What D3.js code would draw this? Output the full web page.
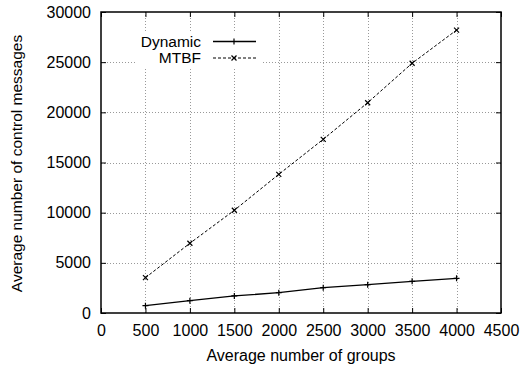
<!DOCTYPE html>
<html>
<head>
<meta charset="utf-8">
<script src="https://cdn.jsdelivr.net/npm/d3@7"></script>
<style>
  body { margin: 0; background: #fff; }
  text { font-family: "Liberation Sans", Arial, sans-serif; }
</style>
</head>
<body>
<svg id="chart" width="523" height="368"></svg>
<script>
// values
var groups = [500, 1000, 1500, 2000, 2500, 3000, 3500, 4000];
var dynamicMsgs = [730, 1230, 1700, 2030, 2520, 2820, 3160, 3460];
var mtbfMsgs = [3520, 6950, 10240, 13820, 17310, 20960, 24890, 28200];
var xTicks = [0, 500, 1000, 1500, 2000, 2500, 3000, 3500, 4000, 4500];
var yTicks = [0, 5000, 10000, 15000, 20000, 25000, 30000];

var svg = d3.select("#chart");
var plotL = 101, plotR = 501, plotT = 12, plotB = 313;

var x = d3.scaleLinear().domain([0, 4500]).range([plotL, plotR]);
var y = d3.scaleLinear().domain([0, 30000]).range([plotB, plotT]);

// grid
var grid = svg.append("g").attr("stroke", "#999").attr("stroke-width", 1)
    .attr("stroke-dasharray", "1,2");
grid.selectAll("line.gx").data(xTicks.slice(1, -1)).enter().append("line")
    .attr("x1", d => Math.round(x(d)) + 0.5).attr("x2", d => Math.round(x(d)) + 0.5)
    .attr("y1", plotT).attr("y2", plotB);
grid.selectAll("line.gy").data(yTicks.slice(1, -1)).enter().append("line")
    .attr("y1", d => Math.round(y(d)) + 0.5).attr("y2", d => Math.round(y(d)) + 0.5)
    .attr("x1", plotL).attr("x2", plotR);

// legend background hides grid
svg.append("rect").attr("x", 135).attr("y", 33).attr("width", 128).attr("height", 34)
    .attr("fill", "#fff");

// axes
var fontSize = "16px";
var fmt = d3.format("d");
svg.append("g").attr("transform", "translate(0," + plotB + ")")
    .call(d3.axisBottom(x).tickValues(xTicks).tickFormat(fmt).tickSize(-5).tickPadding(12));
svg.append("g").attr("transform", "translate(" + plotL + ",0)")
    .call(d3.axisLeft(y).tickValues(yTicks).tickFormat(fmt).tickSize(-5).tickPadding(10));
svg.append("g").attr("transform", "translate(0," + plotT + ")")
    .call(d3.axisTop(x).tickValues(xTicks).tickSize(-5).tickFormat(""));
svg.append("g").attr("transform", "translate(" + plotR + ",0)")
    .call(d3.axisRight(y).tickValues(yTicks).tickSize(-5).tickFormat(""));
svg.selectAll(".domain").remove();
svg.selectAll(".tick line").attr("stroke", "#000");
svg.selectAll(".tick text").style("font-size", fontSize)
    .style("font-family", "Liberation Sans, Arial, sans-serif").attr("fill", "#000");

svg.append("rect").attr("x", plotL).attr("y", plotT)
    .attr("width", plotR - plotL).attr("height", plotB - plotT)
    .attr("fill", "none").attr("stroke", "#000").attr("stroke-width", 1.5);

// series
var line = d3.line().x(d => x(d[0])).y(d => y(d[1]));
var dynPts = groups.map((g, i) => [g, dynamicMsgs[i]]);
var mtbfPts = groups.map((g, i) => [g, mtbfMsgs[i]]);

svg.append("path").datum(dynPts).attr("d", line)
    .attr("fill", "none").attr("stroke", "#000").attr("stroke-width", 1.3);
svg.append("path").datum(mtbfPts).attr("d", line)
    .attr("fill", "none").attr("stroke", "#000").attr("stroke-width", 1)
    .attr("stroke-dasharray", "3,2");

function plus(g, cx, cy) {
  g.append("path").attr("d", "M" + (cx - 3) + "," + cy + "H" + (cx + 3) + "M" + cx + "," + (cy - 3) + "V" + (cy + 3))
    .attr("stroke", "#000").attr("stroke-width", 1.2);
}
function cross(g, cx, cy) {
  g.append("path").attr("d", "M" + (cx - 2.5) + "," + (cy - 2.5) + "L" + (cx + 2.5) + "," + (cy + 2.5) +
      "M" + (cx - 2.5) + "," + (cy + 2.5) + "L" + (cx + 2.5) + "," + (cy - 2.5))
    .attr("stroke", "#000").attr("stroke-width", 1.2);
}
var marks = svg.append("g");
dynPts.forEach(p => plus(marks, x(p[0]), y(p[1])));
mtbfPts.forEach(p => cross(marks, x(p[0]), y(p[1])));

// legend
var legend = svg.append("g");
legend.append("text").attr("x", 201).attr("y", 46.5).attr("text-anchor", "end")
    .style("font-size", "15.5px").text("Dynamic");
legend.append("line").attr("x1", 213).attr("x2", 256).attr("y1", 41.5).attr("y2", 41.5)
    .attr("stroke", "#000").attr("stroke-width", 1.3);
plus(legend, 234, 41.5);
legend.append("text").attr("x", 201).attr("y", 63).attr("text-anchor", "end")
    .style("font-size", "15.5px").text("MTBF");
legend.append("line").attr("x1", 213).attr("x2", 256).attr("y1", 58).attr("y2", 58)
    .attr("stroke", "#000").attr("stroke-width", 1).attr("stroke-dasharray", "3,2");
cross(legend, 234, 58);

// axis titles
svg.append("text").attr("x", (plotL + plotR) / 2).attr("y", 361).attr("text-anchor", "middle")
    .style("font-size", fontSize).text("Average number of groups");
svg.append("text").attr("transform", "translate(21.5,163.5) rotate(-90)").attr("text-anchor", "middle")
    .style("font-size", "15.5px").text("Average number of control messages");
</script>
</body>
</html>
